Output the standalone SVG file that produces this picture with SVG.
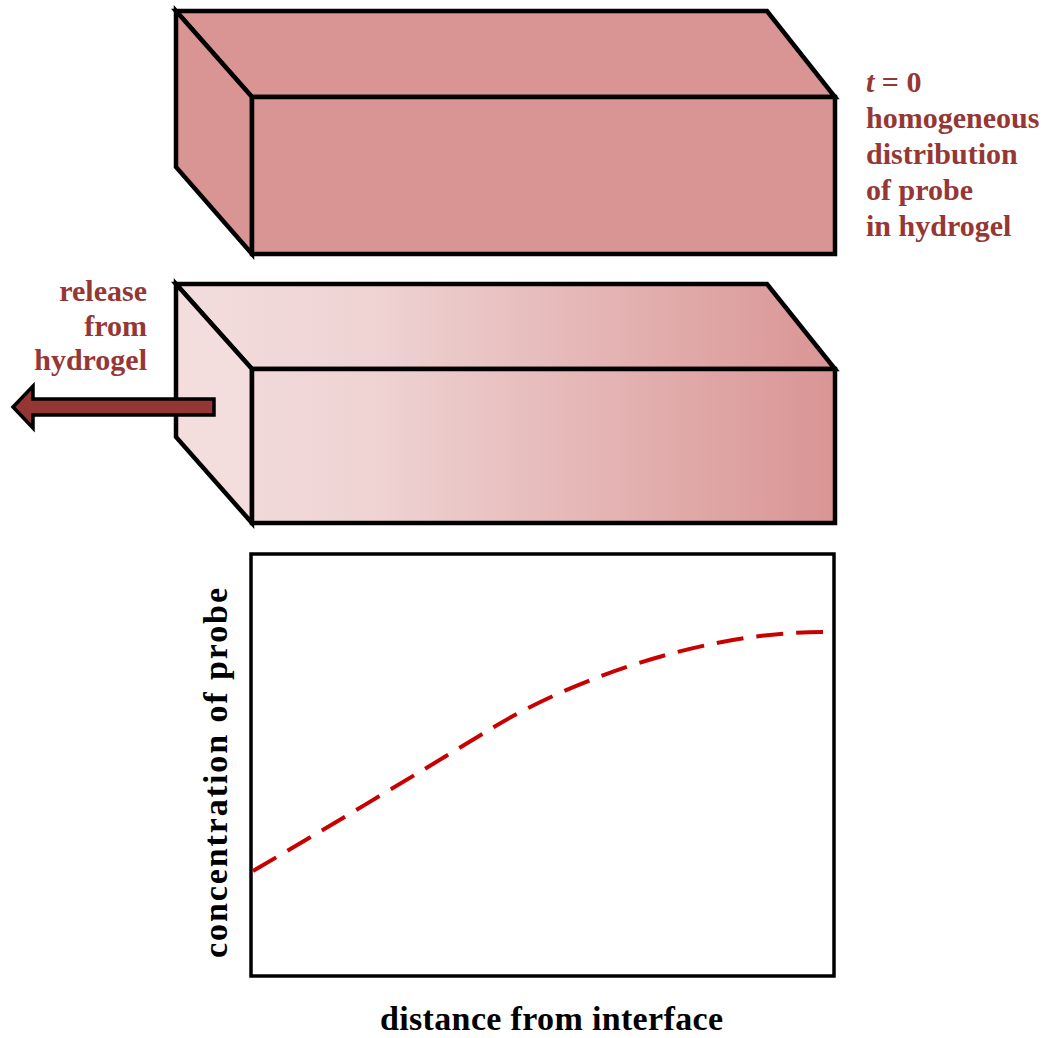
<svg xmlns="http://www.w3.org/2000/svg" width="1045" height="1038" viewBox="0 0 1045 1038">
  <style>
    .edge { stroke: #000; stroke-width: 4.5; stroke-linejoin: miter; }
    .lbl { font-family: "Liberation Serif", "Times New Roman", serif; font-weight: bold; font-size: 30px; fill: #953735; }
    .axis { font-family: "Liberation Serif", "Times New Roman", serif; font-weight: bold; font-size: 34px; fill: #000; }
  </style>
  <defs>
    <linearGradient id="grad" gradientUnits="userSpaceOnUse" x1="176" y1="0" x2="835" y2="0">
      <stop offset="0" stop-color="#f3dddd"/>
      <stop offset="0.3" stop-color="#efd3d3"/>
      <stop offset="1" stop-color="#d99594"/>
    </linearGradient>
  </defs>
  <rect width="1045" height="1038" fill="#fff"/>

  <g id="box-t0">
    <polygon class="edge" fill="#d99594" points="176,11 767,11 835,97 252,97"/>
    <polygon class="edge" fill="#d99594" points="176,11 252,97 252,254 176,167"/>
    <rect class="edge" fill="#d99594" x="252" y="97" width="583" height="157"/>
  </g>

  <g id="label-t0">
    <text class="lbl" x="866" y="92"><tspan font-style="italic">t</tspan> = 0</text>
    <text class="lbl" x="866" y="128">homogeneous</text>
    <text class="lbl" x="866" y="164">distribution</text>
    <text class="lbl" x="866" y="200">of probe</text>
    <text class="lbl" x="866" y="236">in hydrogel</text>
  </g>

  <g id="box-release">
    <polygon class="edge" fill="url(#grad)" points="176,284 767,284 835,369 252,369"/>
    <polygon class="edge" fill="#f3dddd" points="176,284 252,369 252,523 176,437"/>
    <rect class="edge" fill="url(#grad)" x="252" y="369" width="583" height="154"/>
  </g>

  <g id="label-release">
    <text class="lbl" x="147" y="301" text-anchor="end">release</text>
    <text class="lbl" x="147" y="336" text-anchor="end">from</text>
    <text class="lbl" x="147" y="370" text-anchor="end">hydrogel</text>
  </g>

  <g id="connectors">
    <polygon fill="#943634" stroke="#000" stroke-width="3.5" stroke-linejoin="miter" points="214,399 33,399 33,386 13,407 33,428 33,415 214,415"/>
  </g>

  <g id="plot">
    <rect x="251" y="554" width="583" height="422" fill="#fff" stroke="#000" stroke-width="3.5"/>
    <path d="M253,871 C330,826 420,772 494,727 C568,682 700,632 823,632" fill="none" stroke="#c80000" stroke-width="4" stroke-dasharray="27 13"/>
    <text class="axis" transform="translate(227,773) rotate(-90)" text-anchor="middle" textLength="370" lengthAdjust="spacing">concentration of probe</text>
    <text class="axis" x="380" y="1030" textLength="343" lengthAdjust="spacing">distance from interface</text>
  </g>
</svg>
